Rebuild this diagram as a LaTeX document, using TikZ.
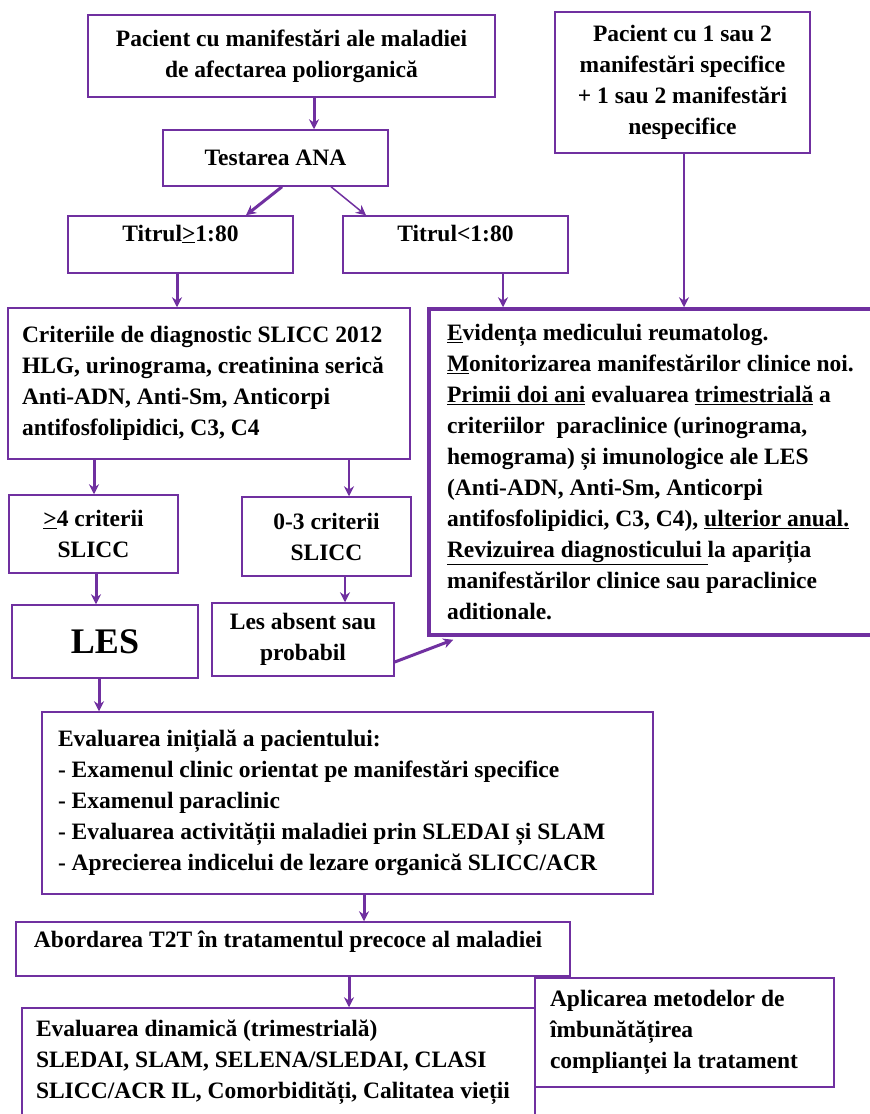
\documentclass[tikz,border=0pt]{standalone}
\usepackage{fontspec}
\setmainfont{Liberation Serif}
\usetikzlibrary{arrows.meta}
\definecolor{lespurple}{HTML}{7030A0}

\begin{document}
\begin{tikzpicture}[x=1pt,y=-1pt,->,>={Stealth[length=10pt,width=10pt]},
    every node/.style={draw=lespurple,line width=1.5pt,inner sep=0pt,font=\fontsize{23.5}{31}\selectfont\bfseries},
    box/.style={align=center},
    leftbox/.style={align=flush left},
    link/.style={draw=lespurple,line width=1.5pt},
    mainlink/.style={draw=lespurple,line width=3pt}]
      \useasboundingbox (0,0) rectangle (870,1114);

      % Screening
      \node[box,minimum width=407pt,minimum height=82pt] (patient) at (291.5,56) {Pacient cu manifestări ale maladiei\\de afectarea poliorganică};
      \node[box,minimum width=255pt,minimum height=141pt] (fewsigns) at (682.5,82.5) {Pacient cu 1 sau 2\\manifestări specifice\\+ 1 sau 2 manifestări\\nespecifice};
      \node[box,minimum width=225pt,minimum height=56pt] (ana) at (275.5,158) {Testarea ANA};
      \node[box,minimum width=225pt,minimum height=57pt,text depth=23pt] (titrehigh) at (180.5,244.5) {Titrul\underline{>}1:80};
      \node[box,minimum width=225pt,minimum height=57pt,text depth=23pt] (titrelow) at (455.5,244.5) {Titrul<1:80};

      % Diagnosis
      \node[leftbox,text width=374pt,inner xsep=14pt,minimum height=151pt] (slicc) at (209,383.5) {Criteriile de diagnostic SLICC 2012\\HLG, urinograma, creatinina serică\\Anti-ADN, Anti-Sm, Anticorpi\\antifosfolipidici, C3, C4};
      \node[leftbox,line width=3.5pt,text width=420pt,inner xsep=18pt,minimum height=326pt] (followup) at (657,472) {\underline{E}vidența medicului reumatolog.\\\underline{M}onitorizarea manifestărilor clinice noi.\\\underline{Primii doi ani} evaluarea \underline{trimestrială} a\\criteriilor\ \ paraclinice (urinograma,\\hemograma) și imunologice ale LES\\(Anti-ADN, Anti-Sm, Anticorpi\\antifosfolipidici, C3, C4), \underline{ulterior anual.}\\\underline{Revizuirea diagnosticului }la apariția\\manifestărilor clinice sau paraclinice\\aditionale.};
      \node[box,minimum width=169pt,minimum height=78pt] (many) at (93.5,534) {\underline{>}4 criterii\\SLICC};
      \node[box,minimum width=169pt,minimum height=79pt] (few) at (326.5,536.5) {0-3 criterii\\SLICC};
      \node[box,minimum width=186pt,minimum height=73pt,font=\fontsize{36}{40}\selectfont\bfseries] (les) at (105,641.5) {LES};
      \node[box,minimum width=182pt,minimum height=73pt] (nolupus) at (303,639.5) {Les absent sau\\probabil};

      % Management
      \node[leftbox,text width=579pt,inner xsep=16pt,minimum height=182pt] (initial) at (347.5,803) {Evaluarea inițială a pacientului:\\- Examenul clinic orientat pe manifestări specifice\\- Examenul paraclinic\\- Evaluarea activității maladiei prin SLEDAI și SLAM\\- Aprecierea indicelui de lezare organică SLICC/ACR};
      \node[leftbox,text width=518pt,inner xsep=18pt,minimum height=54pt,text depth=20pt] (t2t) at (293,949) {Abordarea T2T în tratamentul precoce al maladiei};
      \node[leftbox,text width=485pt,inner xsep=14pt,minimum height=108pt] (dynamic) at (278.5,1062) {Evaluarea dinamică (trimestrială)\\SLEDAI, SLAM, SELENA/SLEDAI, CLASI\\SLICC/ACR IL, Comorbidități, Calitatea vieții};
      \node[leftbox,text width=269pt,inner xsep=15pt,minimum height=109pt] (compliance) at (684.5,1032.5) {Aplicarea metodelor de\\îmbunătățirea\\complianței la tratament};

      % Edges
      \draw[mainlink] (patient.south -| 314,0) -- (ana.north -| 314,0);
      \draw[mainlink] ([xshift=6.5pt]ana.south) -- ([xshift=65.5pt]titrehigh.north);
      \draw[link] ([xshift=55.5pt]ana.south) -- ([xshift=-89.5pt]titrelow.north);
      \draw[mainlink] (titrehigh.south -| 177,0) -- (slicc.north -| 177,0);
      \draw[link] (titrelow.south -| 503,0) -- (followup.north -| 503,0);
      \draw[link] (fewsigns.south -| 684,0) -- (followup.north -| 684,0);
      \draw[mainlink] (slicc.south -| 94,0) -- (many.north -| 94,0);
      \draw[link] (slicc.south -| 349,0) -- (few.north -| 349,0);
      \draw[mainlink] (many.south -| 96,0) -- (les.north -| 96,0);
      \draw[link] (few.south -| 345,0) -- (nolupus.north -| 345,0);
      \draw[mainlink] ([yshift=-22.5pt]nolupus.east) -- ([xshift=26pt,yshift=-3pt]followup.south west);
      \draw[mainlink] (les.south -| 99,0) -- (initial.north -| 99,0);
      \draw[mainlink] (initial.south -| 364,0) -- (t2t.north -| 364,0);
      \draw[mainlink] (t2t.south -| 349,0) -- (dynamic.north -| 349,0);
    \end{tikzpicture}
\end{document}
